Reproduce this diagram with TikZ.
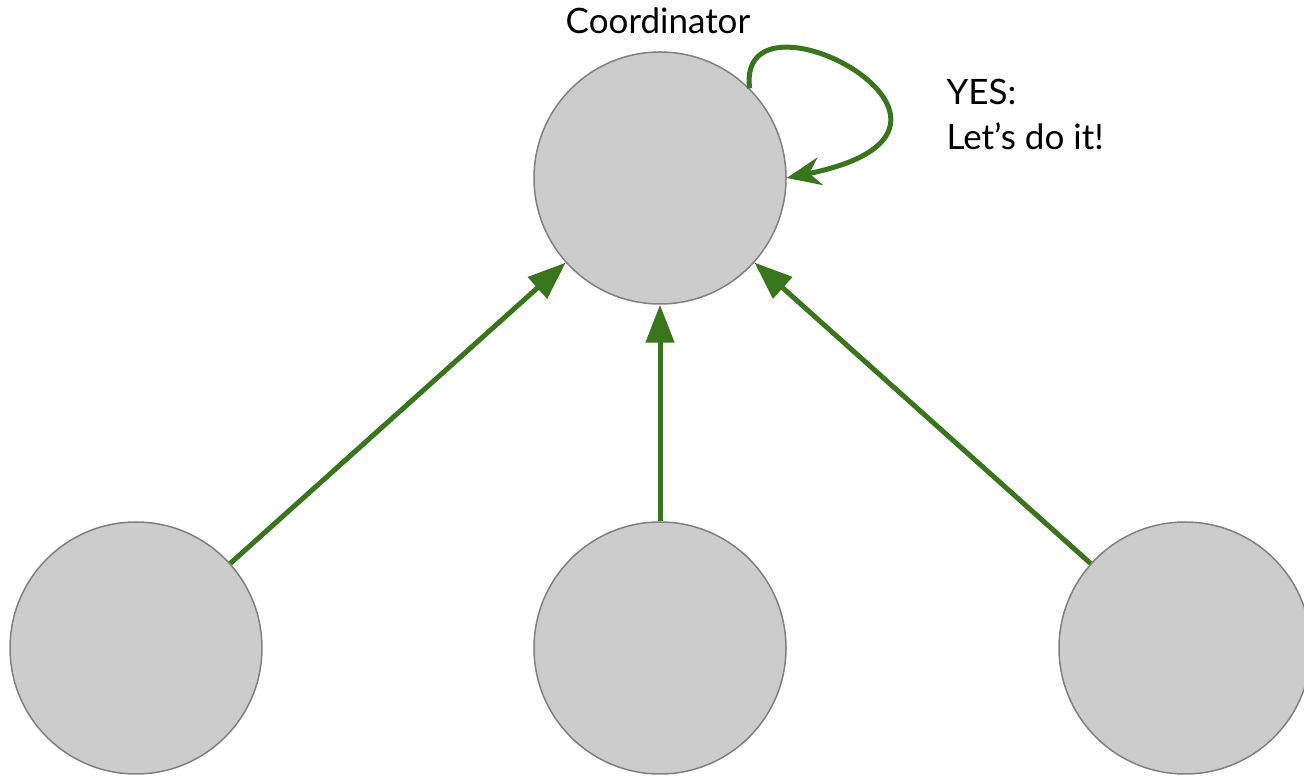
\documentclass[tikz,border=0pt]{standalone}
\usepackage{fontspec}
\setmainfont{Lato}
\usetikzlibrary{arrows.meta}
\definecolor{nodefill}{rgb}{0.8,0.8,0.8}
\definecolor{nodestroke}{rgb}{0.5,0.5,0.5}
\definecolor{edgecol}{rgb}{0.22,0.46,0.11}

\begin{document}
\begin{tikzpicture}[line join=bevel,
  peer/.style={circle,draw=nodestroke,fill=nodefill,line width=1.5bp,
    minimum size=252bp,inner sep=0pt},
  vote/.style={draw=edgecol,line width=5bp,-{Triangle[length=38bp,width=28bp]}},
  selfvote/.style={draw=edgecol,line width=5bp,
    -{Stealth[length=34bp,width=28bp,inset=11bp]}},
  txt/.style={font=\fontsize{35bp}{45bp}\selectfont},
  ]
\useasboundingbox (0bp,0bp) rectangle (1304bp,779bp);
%%
% Node: coordinator
\node[peer] (coord) at (660bp,601bp) {};
\node[txt] (coordlabel) at (658bp,758bp) {Coordinator};
% Node: participants
\node[peer] (p1) at (136bp,131bp) {};
\node[peer] (p2) at (660bp,131bp) {};
\node[peer] (p3) at (1185bp,131bp) {};
% Edge: p1 -> coord
\draw[vote] (p1) -- (coord);
% Edge: p2 -> coord
\draw[vote] (p2) -- (coord);
% Edge: p3 -> coord
\draw[vote] (p3) -- (coord);
% Edge: coord -> coord
\draw[selfvote] (coord.45) .. controls (735bp,805bp) and (1030bp,650bp) .. (coord.east);
\node[txt,anchor=west,align=left] (answer) at (943bp,665bp) {YES:\\Let’s do it!};
%
\end{tikzpicture}
\end{document}
